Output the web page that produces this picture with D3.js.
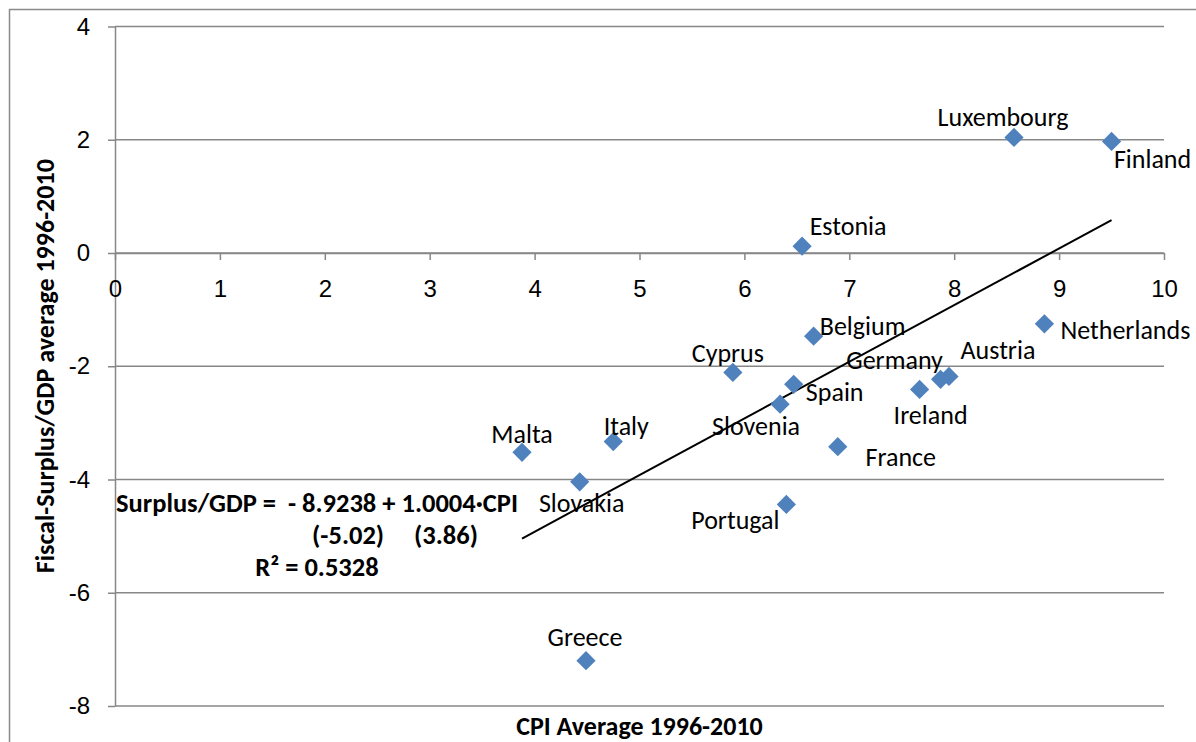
<!DOCTYPE html>
<html>
<head>
<meta charset="utf-8">
<script src="https://cdn.jsdelivr.net/npm/d3@7.9.0/dist/d3.min.js"></script>
<style>
  body { margin: 0; background: #fff; }
  svg { display: block; font-family: Carlito, Calibri, Lato, "Open Sans", sans-serif; }
  .eq text { white-space: pre; }
</style>
</head>
<body>
<svg id="chart" width="1196" height="742"></svg>
<script>
const countries = ["Luxembourg", "Finland", "Estonia", "Netherlands", "Belgium", "Austria", "Germany", "Ireland",
  "Cyprus", "Spain", "Slovenia", "Italy", "France", "Malta", "Slovakia", "Portugal", "Greece"];
const cpiAvg = [8.57, 9.50, 6.55, 8.86, 6.66, 7.95, 7.87, 7.67, 5.89, 6.47, 6.34, 4.75, 6.89, 3.88, 4.43, 6.40, 4.49];
const surplusAvg = [2.04, 1.97, 0.12, -1.25, -1.47, -2.18, -2.23, -2.41, -2.11, -2.32, -2.67, -3.33, -3.42, -3.52, -4.04, -4.44, -7.20];
const xTicks = [0, 1, 2, 3, 4, 5, 6, 7, 8, 9, 10];
const yTicks = [-8, -6, -4, -2, 0, 2, 4];
const intercept = -8.9238;
const slope = 1.0004;
const eqLines = ["Surplus/GDP =  - 8.9238 + 1.0004\u00B7CPI", "(-5.02)     (3.86)", "R\u00B2 = 0.5328"];

// label placement: offset of label centre from its marker, px
const labelOffset = {
  Luxembourg: [-11, -21], Finland: [41, 17], Estonia: [46, -20], Netherlands: [81, 6],
  Belgium: [49, -10], Austria: [49, -27], Germany: [-46, -19], Ireland: [11, 25],
  Cyprus: [-5, -20], Spain: [41, 8], Slovenia: [-24, 22], Italy: [13, -16],
  France: [63, 10], Malta: [0, -18], Slovakia: [2, 21], Portugal: [-51, 15], Greece: [-1, -24]
};

const svg = d3.select("#chart");
const grey = "#878787";

svg.append("rect")
  .attr("x", 9.5).attr("y", 9.5)
  .attr("width", 1300).attr("height", 900)
  .attr("fill", "none").attr("stroke", "#8a8a8a").attr("stroke-width", 1.5);

const x = d3.scaleLinear().domain([0, 10]).range([115, 1164]);
const y = d3.scaleLinear().domain([-8, 4]).range([706, 26.5]);

// gridlines
svg.append("g")
  .selectAll("line")
  .data(yTicks)
  .join("line")
  .attr("x1", x(0)).attr("x2", x(10))
  .attr("y1", d => y(d)).attr("y2", d => y(d))
  .attr("stroke", grey).attr("stroke-width", 1.5);

const yAxis = svg.append("g")
  .attr("transform", `translate(${x(0)},0)`)
  .call(d3.axisLeft(y).tickValues(yTicks).tickSize(7).tickSizeOuter(0).tickPadding(18)
    .tickFormat(d => d < 0 ? "-" + Math.abs(d) : d));

const xAxis = svg.append("g")
  .attr("transform", `translate(0,${y(0)})`)
  .call(d3.axisBottom(x).tickValues(xTicks).tickSize(7).tickSizeOuter(0).tickPadding(20));

[xAxis, yAxis].forEach(g => {
  g.select(".domain").attr("stroke", grey).attr("stroke-width", 1.5);
  g.selectAll(".tick line").attr("stroke", grey).attr("stroke-width", 1.5);
  g.selectAll(".tick text").attr("fill", "#000").attr("font-size", 24).attr("font-family", null);
});

// trend line over data range
const xExt = d3.extent(cpiAvg);
svg.append("line")
  .attr("x1", x(xExt[0])).attr("y1", y(intercept + slope * xExt[0]))
  .attr("x2", x(xExt[1])).attr("y2", y(intercept + slope * xExt[1]))
  .attr("stroke", "#000").attr("stroke-width", 2);

const diamond = d3.symbol().type(d3.symbolSquare).size(185);
const pts = countries.map((c, i) => ({ name: c, cx: x(cpiAvg[i]), cy: y(surplusAvg[i]) }));

svg.append("g")
  .selectAll("path")
  .data(pts)
  .join("path")
  .attr("d", diamond)
  .attr("transform", d => `translate(${d.cx},${d.cy}) rotate(45)`)
  .attr("fill", "#4F81BD");

svg.append("g")
  .selectAll("text")
  .data(pts)
  .join("text")
  .attr("x", d => d.cx + labelOffset[d.name][0])
  .attr("y", d => d.cy + labelOffset[d.name][1])
  .attr("dy", "0.35em")
  .attr("text-anchor", "middle")
  .attr("font-size", 26)
  .text(d => d.name);

// regression equation
const eq = svg.append("g").attr("class", "eq").attr("font-weight", "bold").attr("font-size", 26.5);
eq.append("text").attr("x", 116).attr("y", 512).text(eqLines[0]);
eq.append("text").attr("x", 395).attr("y", 544).attr("text-anchor", "middle").text(eqLines[1]);
eq.append("text").attr("x", 317).attr("y", 576).attr("text-anchor", "middle").text(eqLines[2]);

// axis titles
svg.append("text")
  .attr("x", (x(0) + x(10)) / 2).attr("y", 735)
  .attr("text-anchor", "middle").attr("font-weight", "bold").attr("font-size", 26)
  .text("CPI Average 1996-2010");

svg.append("text")
  .attr("transform", `translate(54,${(y(4) + y(-8)) / 2}) rotate(-90)`)
  .attr("text-anchor", "middle").attr("font-weight", "bold").attr("font-size", 26)
  .text("Fiscal-Surplus/GDP average 1996-2010");
</script>
</body>
</html>
